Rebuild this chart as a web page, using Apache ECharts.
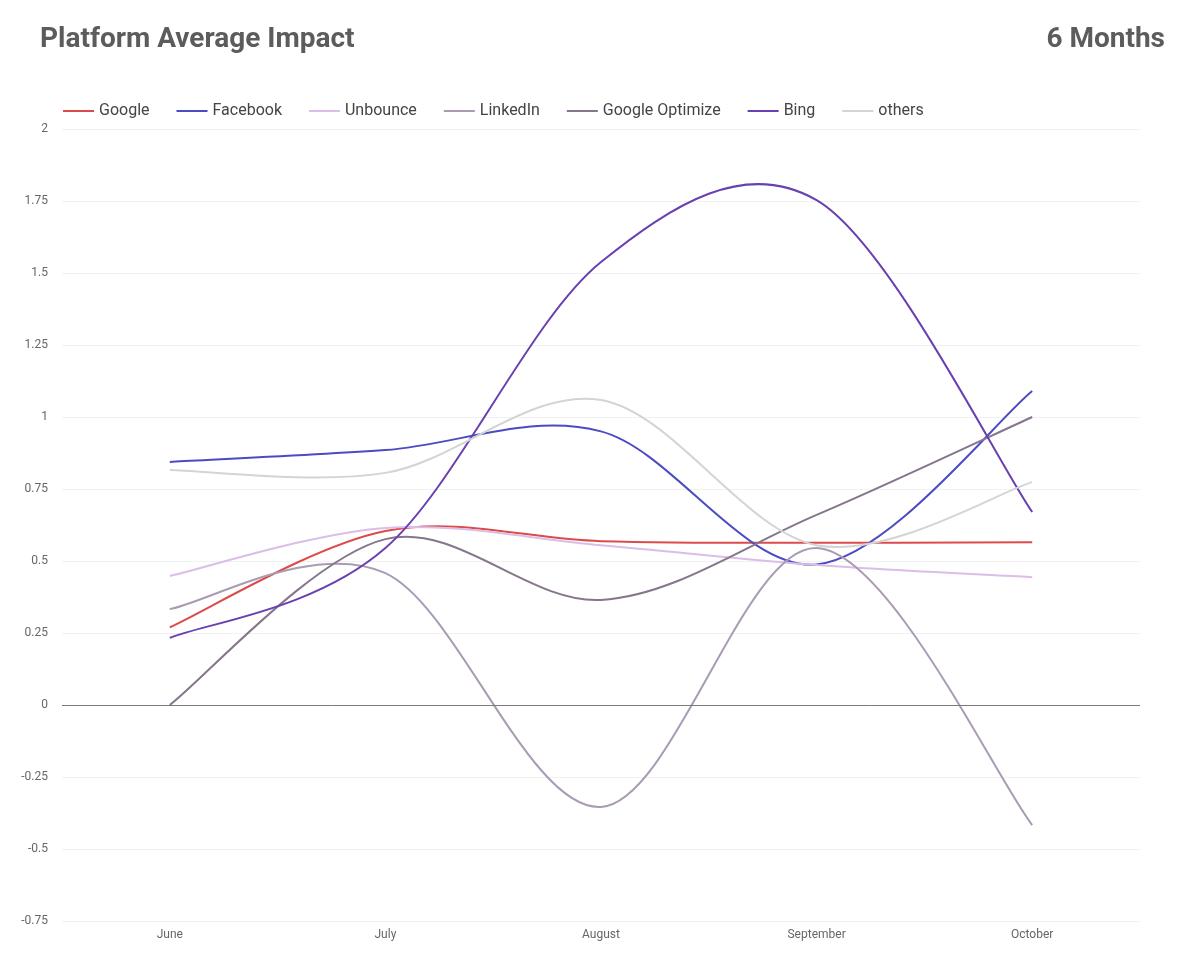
<!DOCTYPE html>
<html>
<head>
<meta charset="utf-8">
<script src="https://cdn.jsdelivr.net/npm/echarts@6/dist/echarts.min.js"></script>
<style>
html,body{margin:0;padding:0;background:#fff;}
#chart{width:1177px;height:974px;}
</style>
</head>
<body>
<div id="chart"></div>
<script>
const months = ['June', 'July', 'August', 'September', 'October'];
const google = [0.27, 0.604, 0.569, 0.563, 0.565];
const facebook = [0.844, 0.885, 0.95, 0.488, 1.09];
const unbounce = [0.448, 0.615, 0.555, 0.486, 0.444];
const linkedin = [0.333, 0.458, -0.354, 0.545, -0.417];
const googleOptimize = [0, 0.576, 0.365, 0.66, 1.0];
const bing = [0.233, 0.545, 1.538, 1.753, 0.67];
const others = [0.816, 0.806, 1.059, 0.555, 0.774];

const seriesDefs = [
  {name: 'Google', data: google, color: '#dc4b4b'},
  {name: 'Facebook', data: facebook, color: '#4b4bc3'},
  {name: 'Unbounce', data: unbounce, color: '#dcbde6'},
  {name: 'LinkedIn', data: linkedin, color: '#a99bb3'},
  {name: 'Google Optimize', data: googleOptimize, color: '#86758c'},
  {name: 'Bing', data: bing, color: '#6940b0'},
  {name: 'others', data: others, color: '#d4d4d4'}
];

// Cardinal (Catmull-Rom) spline through the points, positioned by the chart's own axes
function makeRenderer(values, color) {
  return function (params, api) {
    if (params.dataIndex !== 0) return null;
    const pts = values.map((v, i) => api.coord([i, v]));
    const n = pts.length;
    const get = i => pts[Math.max(0, Math.min(n - 1, i))];
    let d = 'M' + pts[0][0] + ' ' + pts[0][1];
    for (let i = 0; i < n - 1; i++) {
      const p0 = get(i - 1), p1 = get(i), p2 = get(i + 1), p3 = get(i + 2);
      const c1x = p1[0] + (p2[0] - p0[0]) / 6, c1y = p1[1] + (p2[1] - p0[1]) / 6;
      const c2x = p2[0] - (p3[0] - p1[0]) / 6, c2y = p2[1] - (p3[1] - p1[1]) / 6;
      d += ' C' + c1x + ' ' + c1y + ' ' + c2x + ' ' + c2y + ' ' + p2[0] + ' ' + p2[1];
    }
    return {
      type: 'path',
      shape: {pathData: d},
      style: {fill: null, stroke: color, lineWidth: 2}
    };
  };
}

const chart = echarts.init(document.getElementById('chart'), null, {renderer: 'canvas'});
chart.setOption({
  animation: false,
  textStyle: {fontFamily: 'Roboto'},
  title: [
    {text: 'Platform Average Impact', left: 35, top: 21,
     textStyle: {fontFamily: 'Roboto', fontSize: 28, fontWeight: 'bold', color: '#5c5c5c'}},
    {text: '6 Months', right: 7, top: 21,
     textStyle: {fontFamily: 'Roboto', fontSize: 28, fontWeight: 'bold', color: '#5c5c5c'}}
  ],
  color: seriesDefs.map(s => s.color),
  legend: {
    left: 58, top: 98,
    itemWidth: 31, itemHeight: 2, itemGap: 27,
    icon: 'rect',
    textStyle: {fontFamily: 'Roboto', fontSize: 16, color: '#444'},
    data: seriesDefs.map(s => s.name)
  },
  grid: {left: 62, right: 37, top: 129, bottom: 53, containLabel: false},
  xAxis: {
    type: 'category', data: months, boundaryGap: true,
    axisLine: {show: false}, axisTick: {show: false},
    axisLabel: {color: '#666', fontSize: 12, margin: 8}
  },
  yAxis: {
    type: 'value', min: -0.75, max: 2, interval: 0.25,
    axisLine: {show: false}, axisTick: {show: false},
    axisLabel: {color: '#666', fontSize: 12, margin: 14,
      formatter: v => String(Math.round(v * 100) / 100)},
    splitLine: {lineStyle: {color: '#f1f1f1', width: 1}}
  },
  series: [
    {
      name: '_zero', type: 'line', data: [], silent: true,
      markLine: {
        silent: true, symbol: 'none', label: {show: false},
        lineStyle: {color: '#7a7a7a', width: 1, type: 'solid'},
        data: [{yAxis: 0}]
      }
    }
  ].concat(seriesDefs.map(s => ({
    name: s.name, type: 'custom',
    data: s.data.map((v, i) => [i, v]),
    encode: {x: 0, y: 1},
    itemStyle: {color: s.color},
    renderItem: makeRenderer(s.data, s.color)
  })))
});
</script>
</body>
</html>
